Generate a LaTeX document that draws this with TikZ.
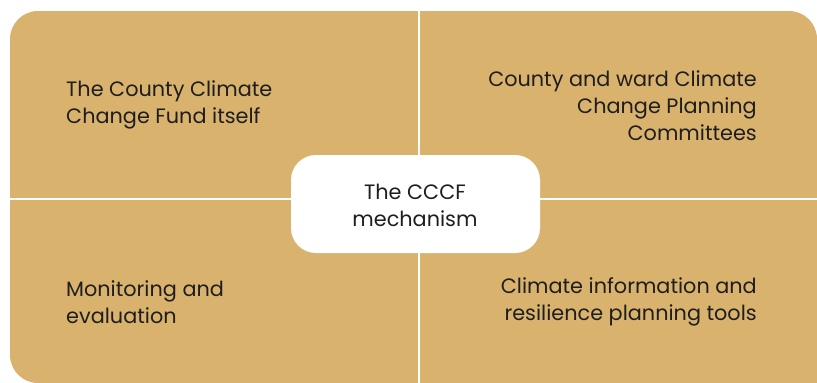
\documentclass[tikz,border=0pt]{standalone}
\usepackage{fontspec}
\setmainfont{Poppins}
\definecolor{gold}{HTML}{D9B36E}
\definecolor{txt}{HTML}{1E1E1E}
\begin{document}
\begin{tikzpicture}[x=1pt,y=-1pt,
  lbl/.style={inner sep=0pt,text=txt,font=\fontsize{20.8}{27}\selectfont},
  lft/.style={lbl,anchor=west,align=left},
  rgt/.style={lbl,anchor=east,align=right}]
\useasboundingbox (0,0) rectangle (817,383);
\clip (0,0) rectangle (817,383);
\fill[gold,rounded corners=28pt] (10,11) rectangle (817,383);
\fill[gold] (700,300) rectangle (817,383);
\draw[white,line width=1.4pt] (419,11) -- (419,383);
\draw[white,line width=1.4pt] (10,199) -- (817,199);
\node[fill=white,rounded corners=25pt,minimum width=249pt,minimum height=98pt,inner sep=0pt] (c) at (415.5,204) {};
\node[lbl,align=center] (ct) at (415,205) {The CCCF\\mechanism};
\node[lft] (tl) at (66,105) {The County Climate\\Change Fund itself};
\node[rgt] (tr) at (757,106) {County and ward Climate\\Change Planning\\Committees};
\node[lft] (bl) at (66,302) {Monitoring and\\evaluation};
\node[rgt] (br) at (757,302) {Climate information and\\resilience planning tools};
\end{tikzpicture}
\end{document}
